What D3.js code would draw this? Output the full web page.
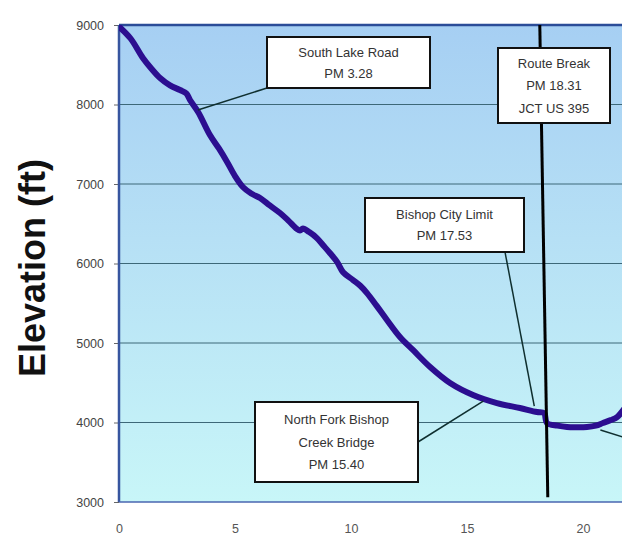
<!DOCTYPE html>
<html>
<head>
<meta charset="utf-8">
<script src="https://cdn.jsdelivr.net/npm/d3@7"></script>
<style>
html,body{margin:0;padding:0;background:#fff;}
svg{display:block;}
</style>
</head>
<body>
<svg id="chart" width="622" height="546"></svg>
<script>
// ---- data ----
const milepost = [0, 0.5, 1.03, 1.4, 1.77, 2.2, 2.63, 2.9, 3.06, 3.41, 3.92, 4.3, 4.66, 5.0, 5.34, 5.7, 6.08, 6.5, 6.94, 7.3, 7.67, 7.8, 7.93, 8.2, 8.53, 8.8, 9.09, 9.4, 9.66, 10.09, 10.4, 10.69, 11.1, 11.55, 12.11, 12.67, 13.41, 14.27, 15.26, 16.29, 17.28, 18.02, 18.32, 18.45, 18.9, 19.31, 19.7, 20.17, 20.55, 20.86, 21.2, 21.47, 21.8];
const elevation = [8980, 8830, 8585, 8450, 8333, 8240, 8182, 8140, 8057, 7906, 7616, 7450, 7277, 7100, 6962, 6880, 6824, 6730, 6635, 6540, 6435, 6415, 6440, 6395, 6320, 6230, 6132, 6020, 5890, 5792, 5720, 5628, 5470, 5289, 5075, 4912, 4698, 4497, 4346, 4245, 4182, 4132, 4119, 3993, 3960, 3943, 3940, 3943, 3960, 3993, 4030, 4069, 4180];
const yTicks = [3000, 4000, 5000, 6000, 7000, 8000, 9000];
const xTicks = [0, 5, 10, 15, 20];
const annoLabels = [
  ["South Lake Road", "PM 3.28"],
  ["Route Break", "PM 18.31", "JCT US 395"],
  ["Bishop City Limit", "PM 17.53"],
  ["North Fork Bishop", "Creek Bridge", "PM 15.40"]
];
const annoTargetPM = [3.4, null, 17.9, 15.7];
const annoTargetElev = [7930, null, 4207, 4270];
const routeBreakPM = 18.31;
const yTitle = "Elevation (ft)";

// ---- layout ----
const svg = d3.select("#chart");
const L = 119, T = 25, B = 502, R = 622;
const x = d3.scaleLinear().domain([0, 20]).range([L, 583]);
const y = d3.scaleLinear().domain([3000, 9000]).range([B, T]);

const defs = svg.append("defs");
const grad = defs.append("linearGradient").attr("id", "bg").attr("x1", 0).attr("y1", 0).attr("x2", 0).attr("y2", 1);
grad.append("stop").attr("offset", "0%").attr("stop-color", "#a6cff3");
grad.append("stop").attr("offset", "45%").attr("stop-color", "#b6e0f5");
grad.append("stop").attr("offset", "100%").attr("stop-color", "#c8f6f8");
defs.append("clipPath").attr("id", "clip").append("rect").attr("x", L).attr("y", T).attr("width", R - L + 5).attr("height", B - T);

svg.append("rect").attr("x", L).attr("y", T).attr("width", R - L + 5).attr("height", B - T).attr("fill", "url(#bg)");

// gridlines
svg.append("g").selectAll("line").data(yTicks.filter(d => d > 3000 && d < 9000)).join("line")
  .attr("x1", L).attr("x2", R + 5).attr("y1", d => y(d)).attr("y2", d => y(d))
  .attr("stroke", "#3d6878").attr("stroke-width", 1);

// axes
const yAxis = d3.axisLeft(y).tickValues(yTicks).tickSize(5).tickPadding(10).tickFormat(d3.format("d"));
const gy = svg.append("g").attr("transform", `translate(${L},0)`).call(yAxis);
gy.select(".domain").remove();
gy.selectAll(".tick line").attr("stroke", "#666");
gy.selectAll("text").attr("font-family", "Arial, 'Liberation Sans', sans-serif").attr("font-size", 12.5).attr("fill", "#444");

const xAxis = d3.axisBottom(x).tickValues(xTicks).tickSize(0).tickPadding(22).tickFormat(d3.format("d"));
const gx = svg.append("g").attr("transform", `translate(0,${B})`).call(xAxis);
gx.select(".domain").remove();
gx.selectAll("text").attr("font-family", "Arial, 'Liberation Sans', sans-serif").attr("font-size", 12.5).attr("fill", "#555");

// borders
svg.append("line").attr("x1", L).attr("x2", R + 5).attr("y1", T).attr("y2", T).attr("stroke", "#2b4c98").attr("stroke-width", 2.5);
svg.append("line").attr("x1", L).attr("x2", L).attr("y1", T).attr("y2", B).attr("stroke", "#37559f").attr("stroke-width", 2.5);
svg.append("line").attr("x1", L).attr("x2", R + 5).attr("y1", B).attr("y2", B).attr("stroke", "#4a66b0").attr("stroke-width", 1.5);

// y title
svg.append("text").attr("transform", `translate(45,268) rotate(-90)`)
  .attr("text-anchor", "middle").attr("font-family", "Arial, 'Liberation Sans', sans-serif")
  .attr("font-weight", "bold").attr("font-size", 36).attr("fill", "#111").text(yTitle);

const plot = svg.append("g").attr("clip-path", "url(#clip)");

// profile line
const pts = milepost.map((m, i) => [m, elevation[i]]);
plot.append("path").datum(pts)
  .attr("d", d3.line().x(d => x(d[0])).y(d => y(d[1])).curve(d3.curveCatmullRom.alpha(0.5)))
  .attr("fill", "none").attr("stroke", "#2c0e90").attr("stroke-width", 6)
  .attr("stroke-linejoin", "round").attr("stroke-linecap", "round");

// route break line
svg.append("line")
  .attr("x1", x(routeBreakPM) - 4).attr("y1", T)
  .attr("x2", x(routeBreakPM) + 4).attr("y2", y(3060))
  .attr("stroke", "#000").attr("stroke-width", 3);

// annotation boxes (pixel layout)
const boxes = [
  {x0: 267, y0: 37, x1: 430, y1: 88, ax: 267, ay: 88},
  {x0: 498, y0: 48, x1: 610, y1: 123},
  {x0: 365, y0: 198, x1: 524, y1: 252, ax: 505, ay: 252},
  {x0: 255, y0: 402, x1: 418, y1: 482, ax: 418, ay: 442}
];
const lead = svg.append("g");
boxes.forEach((b, i) => {
  if (annoTargetPM[i] != null) {
    lead.append("line").attr("x1", b.ax).attr("y1", b.ay)
      .attr("x2", x(annoTargetPM[i])).attr("y2", y(annoTargetElev[i]))
      .attr("stroke", "#0f2f2f").attr("stroke-width", 1.5);
  }
});
// leader from an off-screen box at the right
plot.append("line").attr("x1", x(20.75)).attr("y1", y(3905)).attr("x2", x(21.9)).attr("y2", y(3800))
  .attr("stroke", "#0f2f2f").attr("stroke-width", 1.5);

boxes.forEach((b, i) => {
  const g = svg.append("g");
  g.append("rect").attr("x", b.x0).attr("y", b.y0).attr("width", b.x1 - b.x0).attr("height", b.y1 - b.y0)
    .attr("fill", "#fff").attr("stroke", "#111").attr("stroke-width", 2);
  const lines = annoLabels[i];
  const lh = (lines.length === 3) ? 22.5 : 21;
  const cy = (b.y0 + b.y1) / 2;
  lines.forEach((t, j) => {
    g.append("text").attr("x", (b.x0 + b.x1) / 2)
      .attr("y", cy + (j - (lines.length - 1) / 2) * lh)
      .attr("dy", "0.36em").attr("text-anchor", "middle")
      .attr("font-family", "Arial, 'Liberation Sans', sans-serif").attr("font-size", 13)
      .attr("fill", "#333").text(t);
  });
});
</script>
</body>
</html>
